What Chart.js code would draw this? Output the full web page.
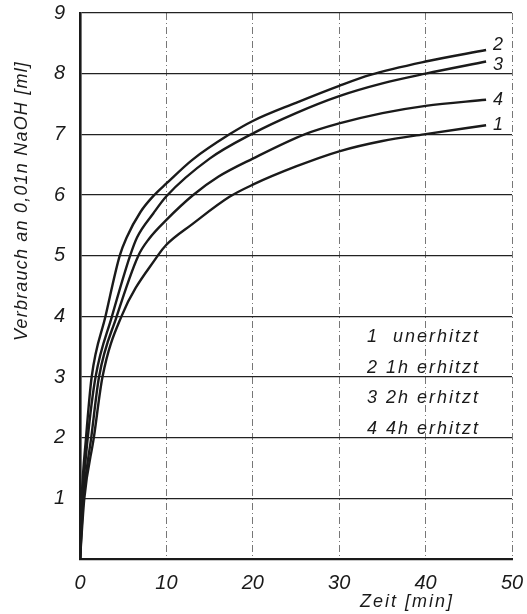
<!DOCTYPE html>
<html>
<head>
<meta charset="utf-8">
<script src="https://cdn.jsdelivr.net/npm/chart.js@4/dist/chart.umd.min.js"></script>
<style>
  body { margin: 0; background: #fff; }
  #wrap { width: 527px; height: 614px; position: relative; }
</style>
</head>
<body>
<div id="wrap"><canvas id="myChart"></canvas></div>
<script>
// curve 1 - unerhitzt
const time1 = [0, 0.5, 1.6, 2.6, 4.8, 9.0, 10, 13, 17.3, 20, 25, 30, 35, 39.8, 47];
const vol1  = [0, 1, 2, 3, 4, 5, 5.18, 5.52, 5.97, 6.17, 6.47, 6.72, 6.89, 7.0, 7.15];
// curve 2 - 1h erhitzt
const time2 = [0, 0.2, 0.7, 1.35, 2.95, 4.6, 5.4, 7, 8.6, 10, 13, 17.3, 20, 25, 30, 33.6, 40, 47];
const vol2  = [0, 1, 2, 3, 4, 5, 5.3, 5.72, 6, 6.19, 6.58, 7, 7.22, 7.52, 7.8, 7.98, 8.2, 8.39];
// curve 3 - 2h erhitzt
const time3 = [0, 0.3, 0.9, 1.8, 3.7, 5.8, 6.6, 8.5, 10, 15, 19.8, 25, 30, 35, 40, 47];
const vol3  = [0, 1, 2, 3, 4, 5, 5.3, 5.7, 5.98, 6.6, 7, 7.35, 7.63, 7.84, 8.0, 8.2];
// curve 4 - 4h erhitzt
const time4 = [0, 0.4, 1.3, 2.2, 4.25, 6.75, 8, 10, 13.1, 16, 20, 26, 30, 35, 40, 47];
const vol4  = [0, 1, 2, 3, 4, 5, 5.28, 5.59, 6, 6.3, 6.6, 7, 7.18, 7.35, 7.47, 7.57];

const curveIds = ['1', '2', '3', '4'];
const legendLines = ['1  unerhitzt', '2 1h erhitzt', '3 2h erhitzt', '4 4h erhitzt'];
const xTicks = [0, 10, 20, 30, 40, 50];
const yTicks = [1, 2, 3, 4, 5, 6, 7, 8, 9];

const FONT = '"Liberation Sans", Arial, sans-serif';
const INK = '#1a1a1a';

function pts(t, v) {
    return t.map((x, i) => ({ x: x, y: v[i] }));
}

function curve(id, t, v) {
    return {
        label: id,
        data: pts(t, v),
        borderColor: INK,
        borderWidth: 2.4,
        pointRadius: 0,
        fill: false,
        cubicInterpolationMode: 'monotone'
    };
}

// text labels: curve numbers, legend block and axis titles
const labelPlugin = {
    id: 'labels',
    afterDatasetsDraw(chart) {
        const ctx = chart.ctx;
        const xs = chart.scales.x, ys = chart.scales.y;
        ctx.save();
        ctx.fillStyle = INK;
        ctx.textBaseline = 'middle';
        ctx.textAlign = 'left';
        ctx.font = 'italic 18px ' + FONT;

        // number at the end of each curve
        chart.data.datasets.forEach((ds, i) => {
            const last = ds.data[ds.data.length - 1];
            let off = [0, -5, 3, 0][i];
            ctx.fillText(ds.label, xs.getPixelForValue(last.x) + 7, ys.getPixelForValue(last.y) + off);
        });

        // legend
        ctx.letterSpacing = '2px';
        ctx.font = 'italic 18px ' + FONT;
        legendLines.forEach((txt, i) => {
            ctx.fillText(txt, 367, 337 + i * 30.5);
        });

        // x title
        ctx.letterSpacing = '2px';
        ctx.font = 'italic 18px ' + FONT;
        ctx.textAlign = 'center';
        ctx.fillText('Zeit [min]', 407, 602);

        // y title
        ctx.letterSpacing = '1.2px';
        ctx.translate(22, 201);
        ctx.rotate(-Math.PI / 2);
        ctx.fillText('Verbrauch an 0,01n NaOH [ml]', 0, 0);
        ctx.restore();
    }
};

const ctx = document.getElementById('myChart').getContext('2d');
let myChart = new Chart(ctx, {
    type: 'line',
    data: {
        datasets: [
            curve(curveIds[0], time1, vol1),
            curve(curveIds[1], time2, vol2),
            curve(curveIds[2], time3, vol3),
            curve(curveIds[3], time4, vol4)
        ]
    },
    options: {
        responsive: true,
        maintainAspectRatio: false,
        animation: false,
        layout: { padding: { top: 13, right: 15, left: 0, bottom: 0 } },
        plugins: {
            legend: { display: false },
            tooltip: { enabled: false }
        },
        scales: {
            x: {
                type: 'linear',
                min: 0,
                max: 50,
                afterBuildTicks: s => { s.ticks = xTicks.map(v => ({ value: v })); },
                afterFit: s => {
                    s.height = 55;
                    s.paddingLeft = 0;
                    s.paddingRight = 0;
                },
                // in v4 border.dash is the dash of the grid lines
                border: { display: true, color: INK, width: 2.2, dash: [7, 3, 1, 3] },
                grid: {
                    color: '#777',
                    lineWidth: 1,
                    drawTicks: false
                },
                ticks: {
                    color: INK,
                    padding: 12,
                    font: { family: FONT, size: 20, style: 'italic' }
                }
            },
            y: {
                min: 0,
                max: 9,
                afterBuildTicks: s => { s.ticks = yTicks.map(v => ({ value: v })); },
                afterFit: s => {
                    s.width = 80;
                    s.paddingTop = 0;
                    s.paddingBottom = 0;
                },
                border: { display: true, color: INK, width: 2.6 },
                grid: {
                    color: '#222',
                    lineWidth: 1.3,
                    drawTicks: false
                },
                ticks: {
                    color: INK,
                    padding: 15,
                    font: { family: FONT, size: 20, style: 'italic' }
                }
            }
        }
    },
    plugins: [labelPlugin]
});
</script>
</body>
</html>
